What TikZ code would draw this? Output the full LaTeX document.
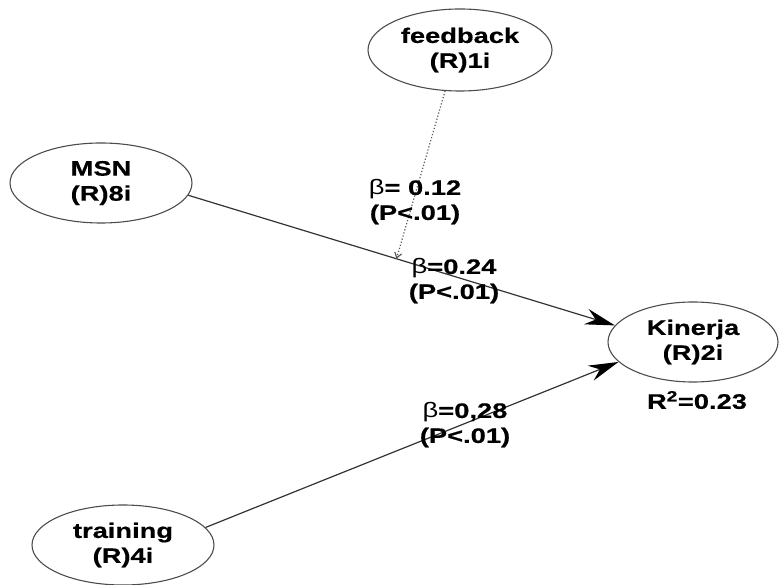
\documentclass[tikz,border=0pt]{standalone}
\usepackage{fontspec}
\setmainfont{Liberation Sans}[FakeStretch=1.3,BoldFeatures={FakeBold=0.5}]
\usetikzlibrary{arrows.meta,shapes.geometric,positioning}

\begin{document}
\begin{tikzpicture}[x=1pt,y=1pt,>={Stealth[length=30pt,width=16pt,inset=10pt,color=black]},node distance=180pt,
    main node/.style={ellipse,draw=black!70,line width=1.1pt,inner sep=0pt,minimum width=182pt,minimum height=80pt,align=center,font=\fontsize{21}{25}\selectfont\bfseries},
    coef node/.style={align=center,font=\fontsize{21}{25}\selectfont\bfseries},
    path line/.style={draw=black!80,line width=1.2pt,->},
    moderator line/.style={draw=black!65,line width=1.2pt,dash pattern=on 1.2pt off 2pt,-{Straight Barb[length=5pt,width=7pt]}}]
            \useasboundingbox (0,0) rectangle (779,584);

            \node[main node] (training) at (123,39) {training\\(R)4i};
            \node[main node] (msn) [above of=training, xshift=-22pt, yshift=182pt] {MSN\\(R)8i};
            \node[main node, minimum width=170pt] (kinerja) [right of=msn, xshift=412pt, yshift=-159pt] {Kinerja\\(R)2i};
            \node[main node, minimum width=184pt, minimum height=82pt] (feedback) [above of=msn, xshift=359pt, yshift=-47pt] {feedback\\(R)1i};

            \node[coef node] (r2) [below of=kinerja, xshift=4pt, yshift=122pt] {R\textsuperscript{2}=0.23};

            \path[path line] (msn.-8) -- coordinate[pos=0.488] (msnmod) (kinerja.168);
            \path[path line] (training.12) -- (kinerja.195);
            \path[moderator line] (feedback.250) -- (msnmod);

            \node[coef node] (b12) at (415,382) {{\mdseries β}= 0.12\\(P<.01)};
            \node[coef node] (b24) at (454,303) {{\mdseries β}=0.24\\(P<.01)};
            \node[coef node] (b28) at (465,159) {{\mdseries β}=0,28\\(P<.01)};
        \end{tikzpicture}
\end{document}
